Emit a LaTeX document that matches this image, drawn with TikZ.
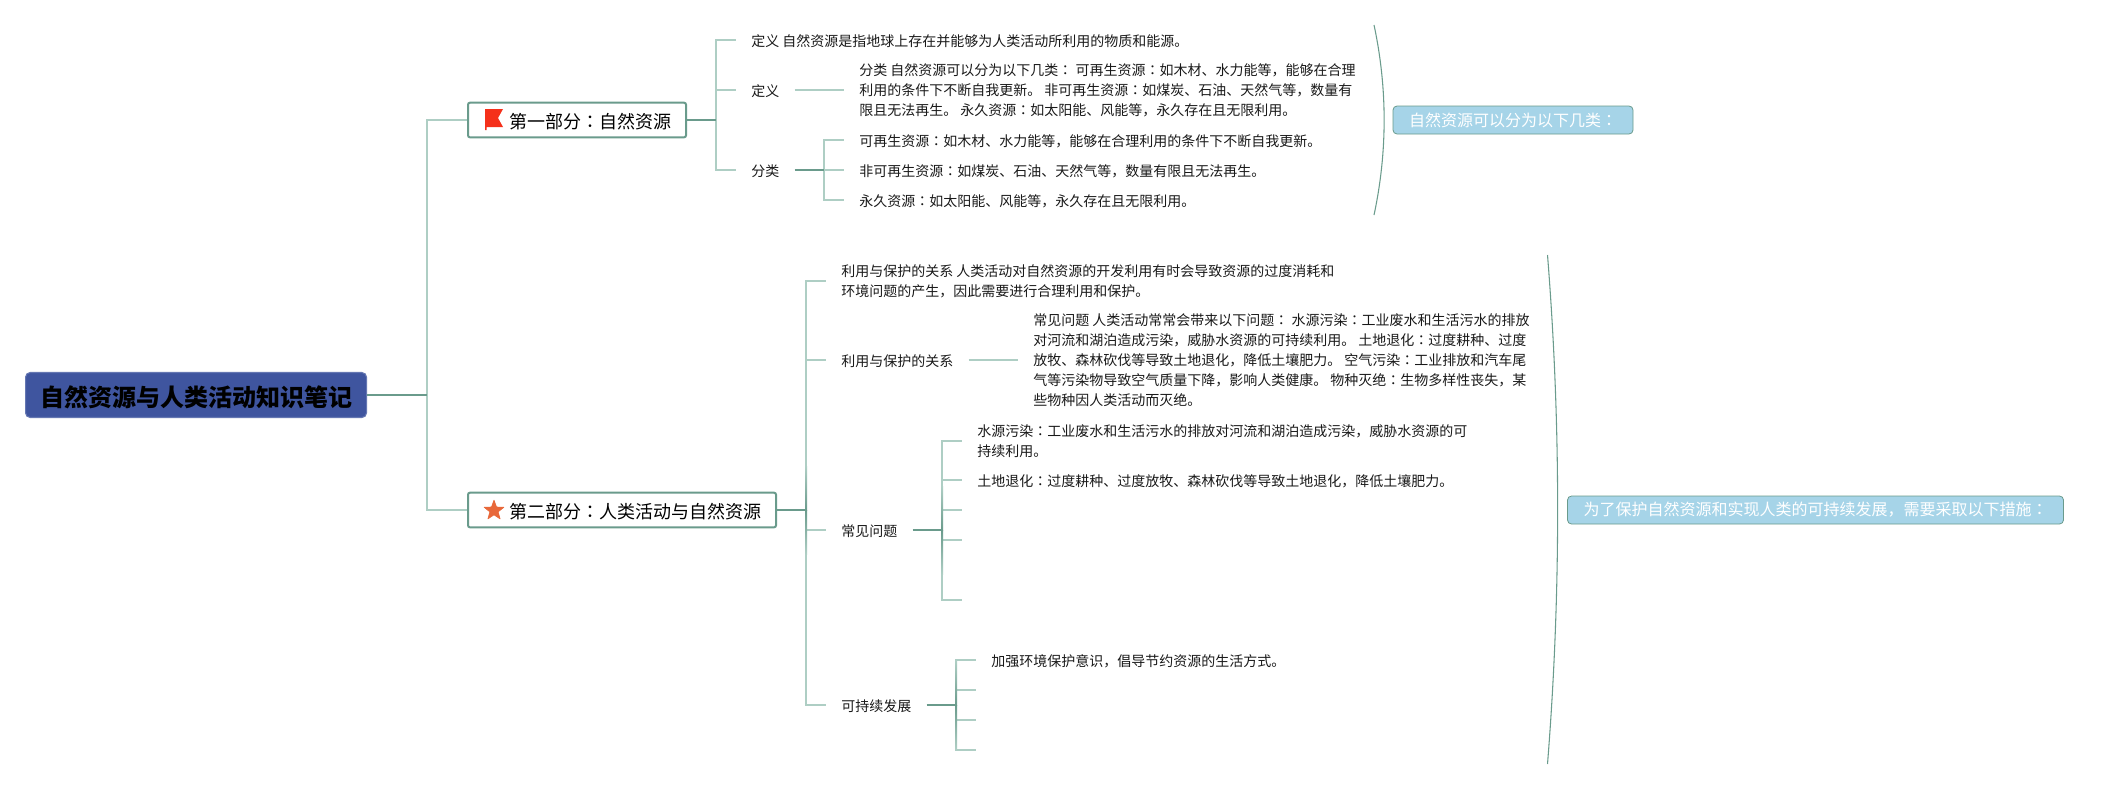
\documentclass[tikz,border=0pt]{standalone}
\usepackage{fontspec}
\setmainfont{Noto Sans CJK SC}
\newfontfamily\colonfont{Noto Sans CJK TC}
\newcommand{\cln}{{\colonfont：}}
\usepackage{xcolor}
\usetikzlibrary{shapes.geometric}
\definecolor{figDark}{RGB}{106,155,140}
\definecolor{figLight}{RGB}{174,206,196}
\definecolor{figRoot}{RGB}{63,85,159}
\definecolor{figSum}{RGB}{166,212,232}
\definecolor{figFlag}{RGB}{245,48,26}
\definecolor{figStar}{RGB}{232,104,58}
\tikzset{
  rootbox/.style={draw=figRoot!80!white, line width=0.8pt, fill=figRoot, rounded corners=3.5pt, anchor=west, inner sep=0pt,
    minimum width=255.75pt, minimum height=33.75pt, execute at begin node={\rule{0pt}{19pt}}, font=\fontsize{18}{22}\selectfont\bfseries},
  partbox/.style={draw=figDark, line width=1.5pt, fill=white, rounded corners=1.5pt, anchor=west, inner xsep=11.25pt, inner ysep=0pt,
    minimum height=26pt, execute at begin node={\rule{0pt}{14.5pt}}, font=\fontsize{13.5}{16}\selectfont},
  topic/.style={anchor=west, inner xsep=11.25pt, inner ysep=0pt, align=left, text=black!90, execute at begin node={\rule{0pt}{11pt}}, font=\fontsize{10.5}{15}\selectfont},
  topicblock/.style={topic, execute at begin node={\rule{0pt}{12.5pt}}},
  sumbox/.style={draw=figDark, line width=0.6pt, fill=figSum, rounded corners=3pt, anchor=center, inner sep=0pt,
    minimum height=21pt, text=white, font=\fontsize{12}{15}\selectfont},
  linkdark/.style={draw=figDark, line width=1.5pt},
  linklight/.style={draw=figLight, line width=1.5pt},
  sumarc/.style={draw=figDark, line width=0.8pt}
}
\begin{document}
\begin{tikzpicture}[x=0.75pt, y=-0.75pt]
\useasboundingbox (0,0) rectangle (2108,790);
% Root and trunk
\node[rootbox] (rootN) at (25,395) {自然资源与人类活动知识笔记};
\coordinate (trunk) at (427,395);
\node[partbox] (partA) at (467,120) {\hspace*{19.5pt}第一部分\cln 自然资源};
\node[partbox] (partB) at (467,510) {\hspace*{19.5pt}第二部分\cln 人类活动与自然资源};
\draw[linklight] (trunk) |- (partA.west);
\draw[linklight] (trunk) |- (partB.west);
\draw[linkdark] (rootN.east) -- (trunk);
% Icons of the two parts
\fill[figFlag] (485,109) -- (503,109) -- (498,118) -- (503,127) -- (486.5,127) -- (486.5,130) -- (485,130) -- cycle;
\node[star, star points=5, star point ratio=2.4, fill=figStar, draw=figStar, line join=round, line width=0.5pt, inner sep=0pt, minimum size=15.5pt] (iconB) at (494,510.5) {};
% Part 1: natural resources
\coordinate (busA) at (716,120);
\node[topic] (defFull) at (736,40) {定义 自然资源是指地球上存在并能够为人类活动所利用的物质和能源。};
\node[topic] (defA) at (736,90) {定义};
\node[topic] (kindA) at (736,170) {分类};
\node[topicblock] (defText) at (844,90) {分类 自然资源可以分为以下几类\cln\ 可再生资源\cln 如木材、水力能等，能够在合理\\利用的条件下不断自我更新。 非可再生资源\cln 如煤炭、石油、天然气等，数量有\\限且无法再生。 永久资源\cln 如太阳能、风能等，永久存在且无限利用。};
\coordinate (busKind) at (824,170);
\node[topic] (kindOne) at (844,140) {可再生资源\cln 如木材、水力能等，能够在合理利用的条件下不断自我更新。};
\node[topic] (kindTwo) at (844,170) {非可再生资源\cln 如煤炭、石油、天然气等，数量有限且无法再生。};
\node[topic] (kindThree) at (844,200) {永久资源\cln 如太阳能、风能等，永久存在且无限利用。};
\foreach \n in {defFull,defA,kindA}
  \draw[linklight] (busA) |- (\n.west);
\draw[linkdark] (partA.east) -- (busA);
\draw[linklight] (defA.east) -- (defText.west);
\foreach \n in {kindOne,kindTwo,kindThree}
  \draw[linklight] (busKind) |- (\n.west);
\draw[linkdark] (kindA.east) -- (busKind);
% Part 2: human activity
\coordinate (busB) at (806,510);
\node[topicblock] (useFull) at (826,281) {利用与保护的关系 人类活动对自然资源的开发利用有时会导致资源的过度消耗和\\环境问题的产生，因此需要进行合理利用和保护。};
\node[topic] (useA) at (826,360) {利用与保护的关系};
\node[topic] (issueA) at (826,530) {常见问题};
\node[topic] (growA) at (826,705) {可持续发展};
\node[topicblock] (useText) at (1018,360) {常见问题 人类活动常常会带来以下问题\cln\ 水源污染\cln 工业废水和生活污水的排放\\对河流和湖泊造成污染，威胁水资源的可持续利用。 土地退化\cln 过度耕种、过度\\放牧、森林砍伐等导致土地退化，降低土壤肥力。 空气污染\cln 工业排放和汽车尾\\气等污染物导致空气质量下降，影响人类健康。 物种灭绝\cln 生物多样性丧失，某\\些物种因人类活动而灭绝。};
\foreach \n in {useFull,useA,issueA,growA}
  \draw[linklight] (busB) |- (\n.west);
\draw[linkdark] (partB.east) -- (busB);
\draw[linklight] (useA.east) -- (useText.west);
% Common problems, three of the branches carry no text
\coordinate (busIssue) at (942,530);
\node[topic] (issueOne) at (962,441) {水源污染\cln 工业废水和生活污水的排放对河流和湖泊造成污染，威胁水资源的可\\持续利用。};
\node[topic] (issueTwo) at (962,480) {土地退化\cln 过度耕种、过度放牧、森林砍伐等导致土地退化，降低土壤肥力。};
\foreach \n in {issueOne,issueTwo}
  \draw[linklight] (busIssue) |- (\n.west);
\foreach \y [count=\i] in {510,540,600}
  {\coordinate (issueEnd\i) at (962,\y);
   \draw[linklight] (busIssue) |- (issueEnd\i);}
\draw[linkdark] (issueA.east) -- (busIssue);
% Sustainable development, three empty branches as well
\coordinate (busGrow) at (956,705);
\node[topic] (growOne) at (976,660) {加强环境保护意识，倡导节约资源的生活方式。};
\draw[linklight] (busGrow) |- (growOne.west);
\foreach \y [count=\i] in {690,720,750}
  {\coordinate (growEnd\i) at (976,\y);
   \draw[linklight] (busGrow) |- (growEnd\i);}
\draw[linkdark] (growA.east) -- (busGrow);
% Buses fade out from their junctions
\foreach \b in {busB,busIssue,busGrow}
  {\shade[top color=figLight, bottom color=figDark] ([xshift=-0.75pt,yshift=33pt]\b) rectangle ([xshift=0.75pt]\b);
   \shade[top color=figDark, bottom color=figLight] ([xshift=-0.75pt]\b) rectangle ([xshift=0.75pt,yshift=-33pt]\b);}
% Summary arcs and their boxes
\coordinate (arcATop) at (1374,25);
\coordinate (arcABot) at (1374,215);
\draw[sumarc] (arcATop) .. controls (1387.5,88) and (1387.5,152) .. (arcABot);
\node[sumbox, minimum width=180pt] (sumA) at (1513,120) {自然资源可以分为以下几类\cln};
\coordinate (arcBTop) at (1547.5,255);
\coordinate (arcBBot) at (1547.5,764);
\draw[sumarc] (arcBTop) .. controls (1561,425) and (1561,594) .. (arcBBot);
\node[sumbox, minimum width=372pt] (sumB) at (1815.5,510) {为了保护自然资源和实现人类的可持续发展，需要采取以下措施\cln};
\end{tikzpicture}
\end{document}
